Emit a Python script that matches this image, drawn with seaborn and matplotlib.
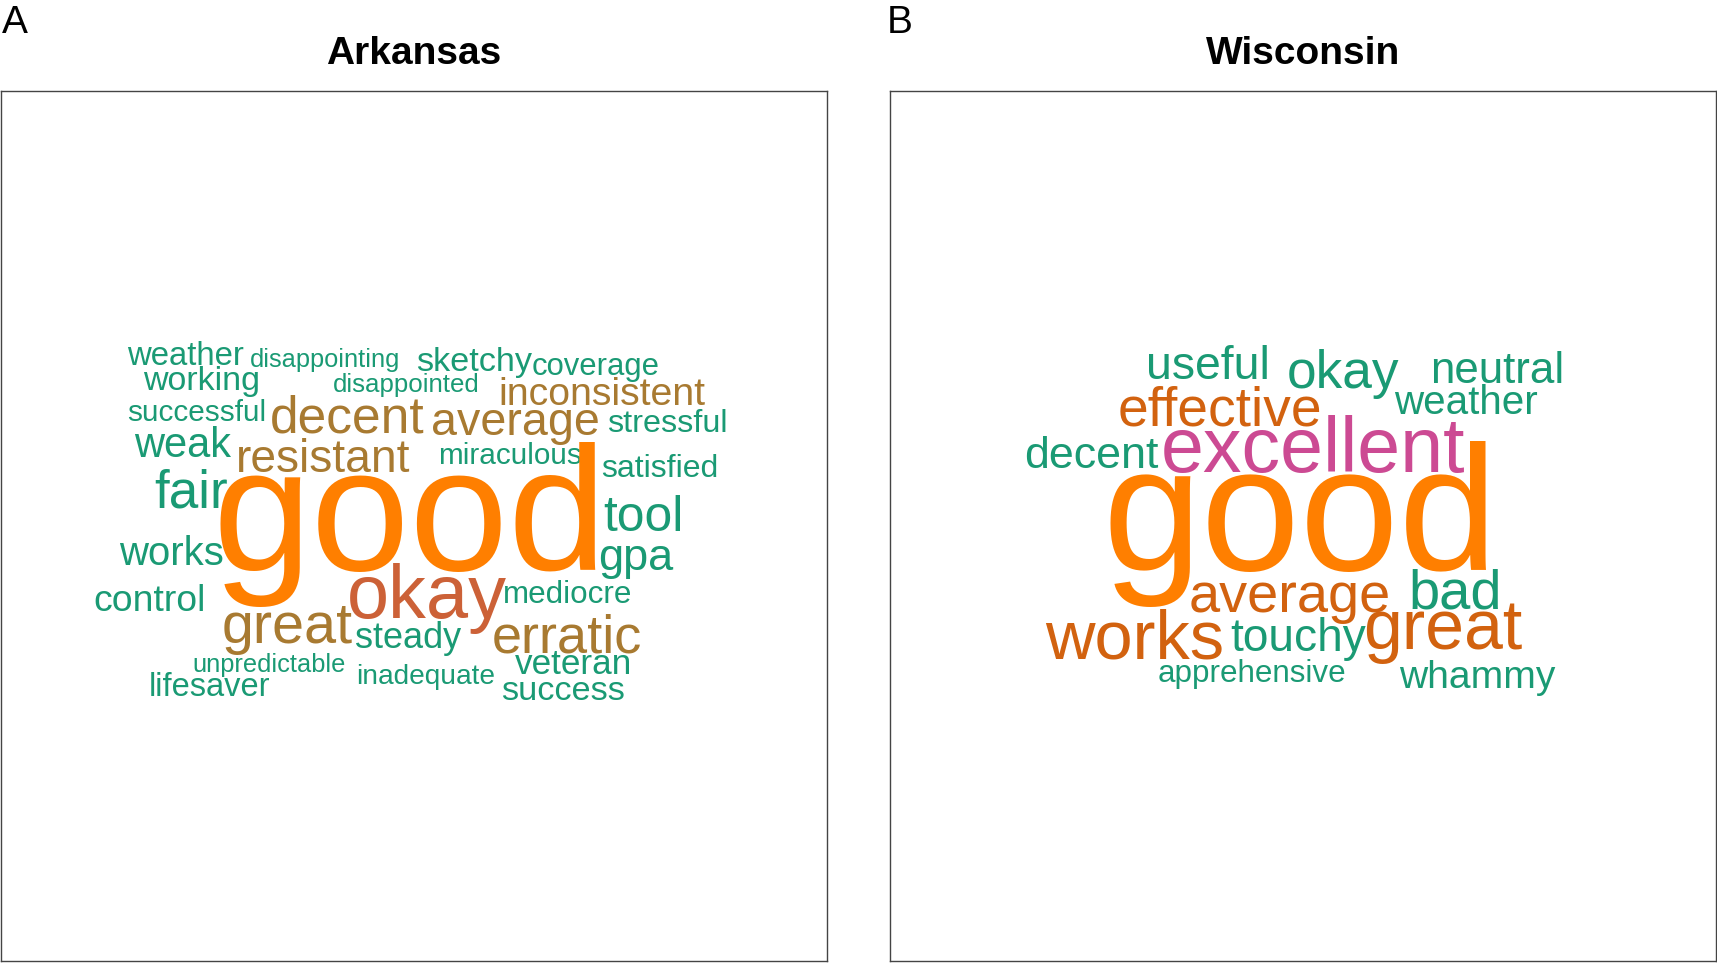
import matplotlib.pyplot as plt
import seaborn as sns

# word clouds of the words used to describe the tool, by state
ark_words = ['weather', 'disappointing', 'sketchy', 'coverage', 'working',
             'disappointed', 'inconsistent', 'successful', 'decent', 'average',
             'stressful', 'weak', 'resistant', 'miraculous', 'satisfied', 'fair',
             'good', 'tool', 'works', 'gpa', 'control', 'okay', 'mediocre',
             'great', 'steady', 'erratic', 'unpredictable', 'veteran',
             'lifesaver', 'inadequate', 'success']
wis_words = ['useful', 'okay', 'neutral', 'effective', 'weather', 'decent',
             'excellent', 'good', 'average', 'bad', 'works', 'touchy', 'great',
             'apprehensive', 'whammy']

# cloud layout (figure pixels: centre x, baseline y), font size and colour
GREEN, BROWN, ORANGE, RUST, DARKOR, PINK = ('#1a9a74', '#a87a31', '#ff7f00',
                                            '#cc6137', '#d2620f', '#cc4a93')
ark_x = [185.6, 324.7, 474.1, 595.7, 202.0, 406.2, 601.7, 196.6, 347.1, 515.2,
         666.9, 182.9, 323.0, 509.7, 659.7, 191.6, 409.5, 643.9, 171.4, 636.2,
         150.0, 426.5, 567.2, 286.9, 407.9, 567.2, 269.4, 573.2, 209.7, 425.4,
         563.4]
ark_y = [365, 367, 371, 375, 390, 392, 405, 421, 432, 435, 432, 457, 472, 464,
         477, 507, 570, 531, 565, 570, 611, 618, 603, 643, 648, 652, 672, 674,
         696, 684, 700]
ark_size = [23.7, 18.3, 24.7, 22.3, 24.5, 18.6, 28.3, 21.4, 37.1, 33.6, 23.3,
            30.0, 33.2, 21.4, 23.0, 38.2, 127.6, 35.8, 28.9, 32.5, 26.9, 54.5,
            22.6, 41.4, 26.0, 39.0, 18.3, 25.3, 23.5, 20.2, 24.7]
ark_color = [GREEN, GREEN, GREEN, GREEN, GREEN, GREEN, BROWN, GREEN, BROWN,
             BROWN, GREEN, GREEN, BROWN, GREEN, GREEN, GREEN, ORANGE, GREEN,
             GREEN, GREEN, GREEN, RUST, GREEN, BROWN, GREEN, BROWN, GREEN,
             GREEN, GREEN, GREEN, GREEN]

wis_x = [1207.8, 1343.0, 1496.9, 1219.8, 1465.7, 1091.7, 1313.5, 1299.8,
         1289.4, 1455.3, 1135.0, 1298.1, 1442.7, 1251.6, 1477.2]
wis_y = [379, 388, 383, 425, 414, 468, 472, 570, 612, 608, 658, 651, 649, 682,
         688]
wis_size = [33.4, 38.3, 31.6, 39.7, 29.1, 32.3, 55.5, 128.0, 40.3, 40.4, 49.4,
            33.1, 50.3, 22.6, 28.1]
wis_color = [GREEN, GREEN, GREEN, DARKOR, GREEN, GREEN, PINK, ORANGE, DARKOR,
             GREEN, DARKOR, GREEN, DARKOR, GREEN, GREEN]

sns.set_style('white')
plt.rcParams['font.family'] = ['Liberation Sans', 'DejaVu Sans']
plt.rcParams['text.color'] = 'black'
plt.rcParams['axes.titlecolor'] = 'black'

W, H = 1717, 963
fig = plt.figure(figsize=(W / 100, H / 100), dpi=100)


def word_cloud(left, right, title, words, xs, ys, sizes, colors):
    '''
    draws one boxed word cloud panel, data coords are figure pixels
    '''
    top, bottom = 91, 961
    ax = fig.add_axes([left / W, (H - bottom) / H, (right - left) / W,
                       (bottom - top) / H])
    ax.set_xlim(left, right)
    ax.set_ylim(bottom, top)
    ax.set_xticks([])
    ax.set_yticks([])
    for sp in ax.spines.values():
        sp.set_visible(True)
        sp.set_color('#444444')
        sp.set_linewidth(1)
    for w, x, y, s, c in zip(words, xs, ys, sizes, colors):
        ax.text(x, y, w, ha='center', va='baseline', fontsize=s, color=c)
    ax.set_title(title, fontsize=28, fontweight='bold', pad=19.8)
    return ax


word_cloud(1, 827, 'Arkansas', ark_words, ark_x, ark_y, ark_size, ark_color)
word_cloud(890, 1716, 'Wisconsin', wis_words, wis_x, wis_y, wis_size, wis_color)

fig.text(2 / W, 1 - 33 / H, 'A', fontsize=28, ha='left', va='baseline')
fig.text(887 / W, 1 - 33 / H, 'B', fontsize=28, ha='left', va='baseline')

fig.savefig('out.png', dpi=100)
